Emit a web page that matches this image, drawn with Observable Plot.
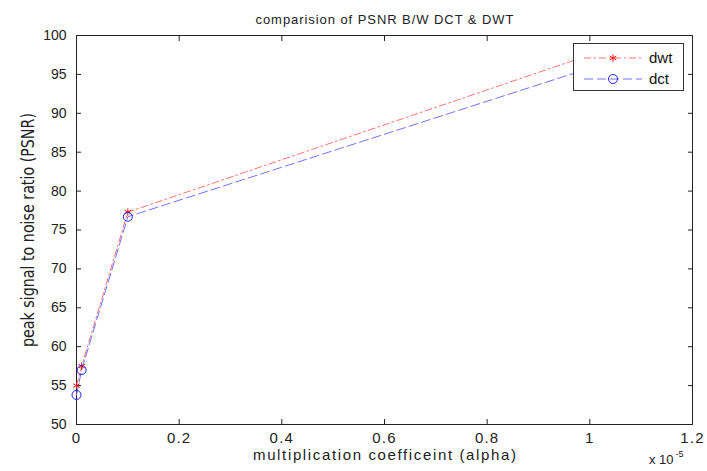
<!DOCTYPE html>
<html><head><meta charset="utf-8">
<script src="https://cdn.jsdelivr.net/npm/d3@7"></script>
<script src="https://cdn.jsdelivr.net/npm/@observablehq/plot@0.6"></script>
<style>
body{margin:0;background:#fff;}
#wrap{position:relative;width:707px;height:471px;font-family:"Liberation Sans",Arial,sans-serif;}
#legend{position:absolute;left:573px;top:43px;width:111px;height:48px;border:1px solid #333;background:#fff;box-sizing:border-box;}
#legend svg{position:absolute;left:0;top:0;}
</style></head><body><div id="wrap"></div>
<script>
const alpha = [0, 0.01, 0.1, 1];          // multiplication coefficient (x 10^-5)
const dwt = [55.0, 57.5, 77.3, 97.5];
const dct = [53.8, 57.0, 76.7, 95.8];
const xTicks = [0, 0.2, 0.4, 0.6, 0.8, 1, 1.2];
const yTicks = [50, 55, 60, 65, 70, 75, 80, 85, 90, 95, 100];
const seriesNames = ["dwt", "dct"];
const titleText = "comparision of PSNR B/W DCT & DWT";
const xLabel = "multiplication coefficeint (alpha)";
const yLabel = "peak signal to noise ratio (PSNR)";

const dwtData = alpha.map((a, i) => ({a, v: dwt[i]}));
const dctData = alpha.map((a, i) => ({a, v: dct[i]}));
const fmt = d => String(+d.toFixed(1));
const font = "Liberation Sans, Arial, sans-serif";

const chart = Plot.plot({
  width: 707, height: 471,
  marginLeft: 76, marginRight: 15, marginTop: 35, marginBottom: 47,
  style: {fontFamily: font, fontSize: "13px", color: "#222", background: "#fff"},
  x: {domain: [0, 1.2]},
  y: {domain: [50, 100]},
  marks: [
    Plot.axisX({anchor: "bottom", ticks: xTicks, tickSize: -5, tickPadding: 13, tickFormat: fmt, label: null, fontSize: 15}),
    Plot.axisX({anchor: "top", ticks: xTicks, tickSize: -5, tickFormat: () => "", label: null}),
    Plot.axisY({anchor: "left", ticks: yTicks, tickSize: -5, tickPadding: 15, tickFormat: fmt, label: null, fontSize: 14}),
    Plot.axisY({anchor: "right", ticks: yTicks, tickSize: -5, tickFormat: () => "", label: null}),
    Plot.frame({stroke: "#222", strokeWidth: 1}),
    Plot.line(dwtData, {x: "a", y: "v", stroke: "#ff7373", strokeWidth: 1, strokeDasharray: "7,3,2,3"}),
    Plot.line(dctData, {x: "a", y: "v", stroke: "#7373ff", strokeWidth: 1, strokeDasharray: "9,4"}),
    Plot.dot(dwtData, {x: "a", y: "v", symbol: "asterisk", stroke: "#ff1010", r: 3.5, strokeWidth: 1}),
    Plot.dot(dctData, {x: "a", y: "v", symbol: "circle", stroke: "#2020ff", fill: "none", r: 4.5, strokeWidth: 1}),
    Plot.text([titleText], {frameAnchor: "top", dy: -21, fontSize: 13, fill: "#222"}),
    Plot.text([xLabel], {frameAnchor: "bottom", dy: 35, fontSize: 15, fill: "#222"}),
    Plot.text(["x 10"], {frameAnchor: "bottom-right", dy: 39, dx: -19, textAnchor: "end", fontSize: 13, fill: "#222"}),
    Plot.text(["-5"], {frameAnchor: "bottom-right", dy: 32, dx: -17, textAnchor: "start", fontSize: 9, fill: "#222"}),
    Plot.text([yLabel], {frameAnchor: "left", textAnchor: "middle", rotate: -90, dx: -48, fontSize: 17, fill: "#222",
      fontFamily: "DejaVu Sans Condensed, DejaVu Sans, sans-serif"})
  ]
});
const wrap = document.getElementById("wrap");
wrap.appendChild(chart);

// text fitting to reference widths
const sel = d3.select(chart);
const byText = s => sel.selectAll("text").filter(function () { return this.textContent === s; });
sel.selectAll('[aria-label="x-axis tick label"] text').style("letter-spacing", "1.2px");
byText(titleText).attr("textLength", 258).attr("lengthAdjust", "spacing");
byText(xLabel).attr("textLength", 263).attr("lengthAdjust", "spacing");
byText(yLabel).attr("textLength", 234).attr("lengthAdjust", "spacingAndGlyphs");

// legend
const leg = document.createElement("div");
leg.id = "legend";
const ns = "http://www.w3.org/2000/svg";
const svg = document.createElementNS(ns, "svg");
svg.setAttribute("width", 111); svg.setAttribute("height", 48);
const rows = [
  {name: seriesNames[0], stroke: "#ff7373", dash: "7,3,2,3", mk: "#ff1010", sym: "asterisk"},
  {name: seriesNames[1], stroke: "#7373ff", dash: "9,4", mk: "#2020ff", sym: "circle"}
];
rows.forEach((r, i) => {
  const y = 14 + i * 21;
  const ln = document.createElementNS(ns, "line");
  ln.setAttribute("x1", 10); ln.setAttribute("x2", 68); ln.setAttribute("y1", y); ln.setAttribute("y2", y);
  ln.setAttribute("stroke", r.stroke); ln.setAttribute("stroke-dasharray", r.dash);
  svg.appendChild(ln);
  const p = document.createElementNS(ns, "path");
  p.setAttribute("transform", `translate(39,${y})`);
  p.setAttribute("d", d3.symbol(r.sym === "circle" ? d3.symbolCircle : d3.symbolAsterisk, r.sym === "circle" ? 64 : 40)());
  p.setAttribute("fill", "none"); p.setAttribute("stroke", r.mk);
  svg.appendChild(p);
  const t = document.createElementNS(ns, "text");
  t.setAttribute("x", 75); t.setAttribute("y", y); t.setAttribute("dy", "0.35em");
  t.setAttribute("font-size", 15); t.setAttribute("font-family", font); t.setAttribute("fill", "#111");
  t.textContent = r.name;
  svg.appendChild(t);
});
leg.appendChild(svg);
wrap.appendChild(leg);
</script>
</body></html>
